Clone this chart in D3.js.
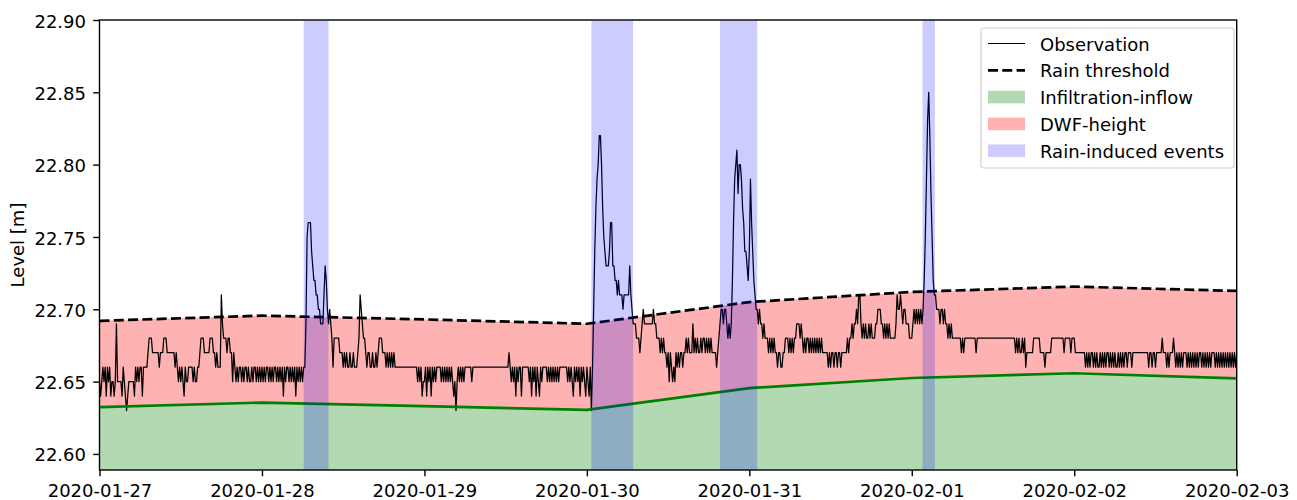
<!DOCTYPE html>
<html>
<head>
<meta charset="utf-8">
<script src="https://cdn.jsdelivr.net/npm/d3@7"></script>
<style>
  html, body { margin: 0; padding: 0; background: #fff; }
  svg { display: block; font-family: "DejaVu Sans", sans-serif; }
</style>
</head>
<body>
<svg id="chart" width="1297" height="500"></svg>
<script>
// ---- data -------------------------------------------------------------
// Daily reference dates (midnight UTC) used for x ticks and daily curves
const dayTicks = ["2020-01-27", "2020-01-28", "2020-01-29", "2020-01-30",
                  "2020-01-31", "2020-02-01", "2020-02-02", "2020-02-03"];

// Rain threshold and infiltration-inflow level at each day boundary [m]
const rainThreshold = [22.692, 22.6956, 22.693, 22.690, 22.705, 22.712, 22.7157, 22.7127];
const infiltration  = [22.6323, 22.6355, 22.633, 22.6305, 22.6455, 22.6525, 22.6558, 22.6523];

// Y tick values [m]
const yTicks = [22.60, 22.65, 22.70, 22.75, 22.80, 22.85, 22.90];

// Rain-induced events (start, end)
const rainEvents = [
  ["2020-01-28T06:10Z", "2020-01-28T09:50Z"],
  ["2020-01-30T00:40Z", "2020-01-30T06:50Z"],
  ["2020-01-30T19:40Z", "2020-01-31T01:10Z"],
  ["2020-02-01T01:35Z", "2020-02-01T03:25Z"]
];

// Observed level, one sample every 10 minutes from midnight of each day,
// given in cm above the 22.60 m datum.
const obsDatum = 22.60;
const obsStepMinutes = 10;
const obs0127 = [5,4,5,6,5,6,4,6,5,6,4,5,5,4,5, 9,
  5,5,5,5,4,6,5,4,3,4,5,5,5,5,5,4, 6,5,6,5,6,6,4,6, 6,6,6,7, 8,8,8,
  7,7,7,7,7,7,6,7,7, 7,8,8,8, 7,7,7,7,7,7,7,6,7,6,
  5,6,5,6,5,4,6,5,5,6,6,6,6,5,6,5,5,6,6,
  7,8,8,8,7,7,7,7,7,8,8,8,7,7,6,7,6,6,6, 11,9,8,
  8,8,7,8,8,7,7,5,7,6,
  5,6,5,6,6,5,6,5,6,6,5,6,5,5,6,5,6,6,5,6,5,6,5];
const obs0128 = [6,5,6,5,6,6,5,6,5,6, 5,6,6,5,6,5,6,5,6,4, 6,5,6,6,5,6,5,6,5,6, 4,6,5,6,5,6,5,6,
  6,9,15,16,16,16,14,13,12,12,11,11,10,10,9,9,9,11,13,12,10,9,
  10,9,8,6,8,8,8,8,8,7,7,7,
  6,7,6,7,6,6,7,6,6,7,6,6,
  6,7,8,11,10,9,8,8,7,6,7,7,
  6,6,7,6,6,7,6,7,8,8,8,7,
  7,7,6,7,6,7,6,7,6,7,6,6,
  6,6,6,6,6,6,6,6,6,6,6,6,
  6,6,6,6,6,6,5,6,5,6,4,5];
const obs0129 = [5,6,4,6,5,6,4,6,5,6, 5,6,6,6,6,5,6,5,6,5, 6,5,6,5,6,5,4,5,3,5, 6,5,6,5,6,5,6,6,6,6, 6,6,5,6,
  6,6,6,6,6,6,6,6,6,6,6,6,6,6,6,6,6,6,6,6,6,6,6,6,6,6,6,6,6,6,6,
  7,6,5,6,5,6,4,6,5,6,6,4,
  6,6,6,6,6,6,
  5,6,4,6,5,6,4,6,5,4,6,5,
  6,6,6,6,
  5,6,5,6,5,6,5,6,5,6,5,
  6,6,6,6,6,6,6,
  5,6,5,6,5,4,6,5,6,5,6,4,6,5,6,5,4];
const obs0130 = [6,5,4,6,
  3,6,10,14,17,19,20,22,22,20, 17,15,14,13,13,13,14,16,16,13, 13,12,12,11,12,11,11,11,10,11, 11,11,11,11,13,11,10,9,
  9,9,8,8,8,7,8,
  9,10,9,9,9,9,9,9,9,9,10,9,9,
  8,8,8,7,8,7,8,7,7,6,
  7,5,7,6,5,6,5,7,6,7,6,
  7,7,6,7,7,8,7,8,7,7,7,9,7,
  8,7,8,7,7,8,7,8,8,7,8,7,8,7,8,7,
  7,7,7,6,7,
  8,9,10,10,9,10,10,9,8,9, 8,9,12,16,19,20,21,18,20,20, 19,17,16,14,14,13,12];
const obs0131 = [14,19,16,14,12,11,10,
  10,9,10,9,9,8,9,8,8,8, 7,8,7,8,7,8,7,7,6,7, 7,6,6,7,7,
  8,8,8,7,8,7,8,7,8,8,9,9,9,8,9,8,
  7,8,7,8,8,7,8,7,8,7,8,7,8,7,8,7,8,7,7,
  7,7,7,6,7,6,7,7,6,7,7,6,7,7,6,7,7,7,7,
  7,8,7,8,8,9,8,9,9,10,
  9,11,11,9,8,9,8,9,8,8, 9,8,9,8,8,8,9,9,10,10, 10,9,9,8,9,8,9,8,9,8,
  8,8,8,8,9,11,10,10,11,10, 9,10,10,9,9,9,8,8];
const obs0201 = [8,9,10,9,10,9,10,9,10,9,10,
  12,15,19,23,25,22,18,15,12,11,11,
  10,10,10,9,10,10,9,10,9,9,8,9,8,9,8,
  8,8,8,8,8,8,8,7,8,7,8,8,8,8,8,8,8,8,8,8,7,8,8,8,8,8,8,8,8,8,
  8,8,8,8,8,8,8,8,8,8,8,8,8,8,8,8,8,8,8,8,8,8,8,8,8,
  7,8,7,8,7,7,8,7,8,6,
  7,7,7,7,7,7,
  8,8,8,8,8,8,
  7,7,7,7,6,7,7,7,7,7,
  8,8,8,8,8,8,8,8,8,8,8,
  7,
  8,8,8,8,8,7,8,8];
const obs0202 = [8, 7,7,7,7,7,7,7,7,7,
  6,7,6,7,6,7,7,6,7,6,7,6,6,7,6,7,6,7,6,7,7,6,7,6,7,6,7,6,6,7,6,7,6,7,6,7,
  7,6,7,7,7,6,
  7,7,7,7,7,7,7,7,7,7,7,7,7,7,
  6,7,7,6,7,7,6,7,7,7,7,7,
  8,7,7,7,6,7,6,7,7,7,8,7,
  6,7,6,7,6,7,6,7,7,7, 6,7,6,7,6,7,6,7,6,7, 6,7,7,6,7,6,7,6,7,6,
  7,6,7,7,7,6,7,6,7,6, 7,6,7,6,7,6,7,6,7,6, 7,6,7,6,7];
const obsDays = [obs0127, obs0128, obs0129, obs0130, obs0131, obs0201, obs0202];

// ---- layout -----------------------------------------------------------
const svg = d3.select("#chart");
const margin = { left: 99.5, top: 20 };
const W = 1137.2, H = 450;
const g = svg.append("g").attr("transform", `translate(${margin.left},${margin.top})`);

const parseDay = d3.utcParse("%Y-%m-%d");
const days = dayTicks.map(parseDay);

const x = d3.scaleUtc().domain([days[0], days[days.length - 1]]).range([0, W]);
const y = d3.scaleLinear().domain([22.5889, 22.90]).range([H, 0]);

// observation series as (time, level)
const observation = [];
obsDays.forEach((vals, k) => {
  vals.forEach((v, i) => {
    observation.push({ t: new Date(+days[k] + i * obsStepMinutes * 60000), v: obsDatum + v / 100 });
  });
});

const daily = days.map((d, i) => ({ t: d, thr: rainThreshold[i], inf: infiltration[i] }));

g.append("clipPath").attr("id", "plotClip")
  .append("rect").attr("width", W).attr("height", H);
const plot = g.append("g").attr("clip-path", "url(#plotClip)");

// infiltration-inflow area (bottom up to the infiltration level)
plot.append("path").datum(daily)
  .attr("d", d3.area().x(d => x(d.t)).y0(H).y1(d => y(d.inf)))
  .attr("fill", "green").attr("fill-opacity", 0.3);

// DWF-height area (infiltration level up to rain threshold)
plot.append("path").datum(daily)
  .attr("d", d3.area().x(d => x(d.t)).y0(d => y(d.inf)).y1(d => y(d.thr)))
  .attr("fill", "red").attr("fill-opacity", 0.3);

// observation
plot.append("path").datum(observation)
  .attr("d", d3.line().x(d => x(d.t)).y(d => y(d.v)))
  .attr("fill", "none").attr("stroke", "#000").attr("stroke-width", 1.25)
  .attr("stroke-linejoin", "round");

// rain threshold
plot.append("path").datum(daily)
  .attr("d", d3.line().x(d => x(d.t)).y(d => y(d.thr)))
  .attr("fill", "none").attr("stroke", "#000").attr("stroke-width", 2.7)
  .attr("stroke-dasharray", "10,4.3");

// infiltration-inflow line
plot.append("path").datum(daily)
  .attr("d", d3.line().x(d => x(d.t)).y(d => y(d.inf)))
  .attr("fill", "none").attr("stroke", "green").attr("stroke-width", 2.7);

// rain-induced event spans
plot.selectAll("rect.rain").data(rainEvents).join("rect")
  .attr("class", "rain")
  .attr("x", d => x(new Date(d[0])))
  .attr("width", d => x(new Date(d[1])) - x(new Date(d[0])))
  .attr("y", 0).attr("height", H)
  .attr("fill", "blue").attr("fill-opacity", 0.2);

// ---- axes -------------------------------------------------------------
const xAxis = d3.axisBottom(x)
  .tickValues(days)
  .tickFormat(d3.utcFormat("%Y-%m-%d"))
  .tickSize(6.3).tickPadding(8);
const yAxis = d3.axisLeft(y)
  .tickValues(yTicks)
  .tickFormat(d3.format(".2f"))
  .tickSize(6.3).tickPadding(7.2);

const gx = g.append("g").attr("transform", `translate(0,${H})`).call(xAxis);
const gy = g.append("g").call(yAxis);
[gx, gy].forEach(a => {
  a.select(".domain").remove();
  a.selectAll(".tick line").attr("stroke", "#000").attr("stroke-width", 1.4);
  a.selectAll(".tick text").attr("fill", "#000")
    .style("font-family", "'DejaVu Sans', sans-serif").style("font-size", "18px");
});
gy.selectAll(".tick text").attr("dy", "0.39em");

// frame
g.append("rect").attr("width", W).attr("height", H)
  .attr("fill", "none").attr("stroke", "#000").attr("stroke-width", 1.4);

// y label
svg.append("text")
  .attr("transform", `translate(24,${margin.top + H / 2}) rotate(-90)`)
  .attr("text-anchor", "middle")
  .style("font-size", "18px").attr("fill", "#000")
  .text("Level [m]");

// ---- legend -----------------------------------------------------------
const legend = svg.append("g").attr("transform", "translate(981,28)");
legend.append("rect").attr("width", 253).attr("height", 140).attr("rx", 3)
  .attr("fill", "#fff").attr("fill-opacity", 0.8)
  .attr("stroke", "#d0d0d0").attr("stroke-width", 1.2);

const legendItems = [
  { label: "Observation", type: "line", stroke: "#000", width: 1, dash: null },
  { label: "Rain threshold", type: "line", stroke: "#000", width: 2.7, dash: "10,4.3" },
  { label: "Infiltration-inflow", type: "patch", fill: "green", opacity: 0.3 },
  { label: "DWF-height", type: "patch", fill: "red", opacity: 0.3 },
  { label: "Rain-induced events", type: "patch", fill: "blue", opacity: 0.2 }
];
legendItems.forEach((it, i) => {
  const base = 22.5 + i * 26.8;  // text baseline within legend
  const cy = base - 7;
  const row = legend.append("g");
  if (it.type === "line") {
    row.append("line").attr("x1", 7).attr("x2", 44).attr("y1", cy).attr("y2", cy)
      .attr("stroke", it.stroke).attr("stroke-width", it.width)
      .attr("stroke-dasharray", it.dash);
  } else {
    row.append("rect").attr("x", 7).attr("y", cy - 6.3).attr("width", 37).attr("height", 12.6)
      .attr("fill", it.fill).attr("fill-opacity", it.opacity);
  }
  row.append("text").attr("x", 59).attr("y", base)
    .style("font-size", "18px").attr("fill", "#000").text(it.label);
});
</script>
</body>
</html>
